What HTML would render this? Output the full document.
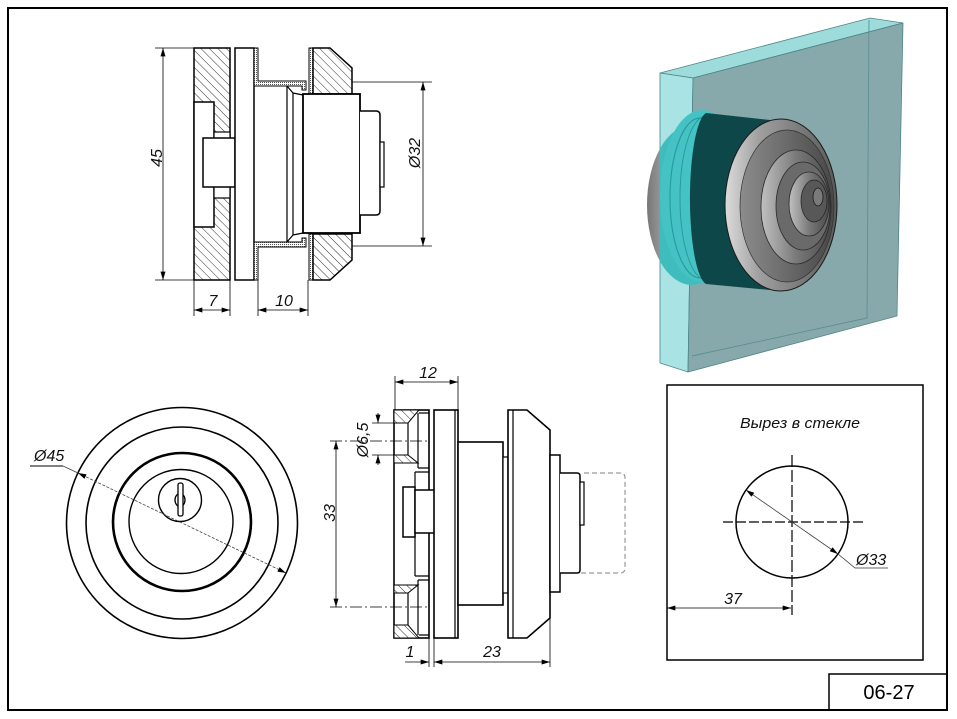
<!DOCTYPE html>
<html><head><meta charset="utf-8"><style>
html,body{margin:0;padding:0;background:#fff;}
svg{display:block;}
text{font-family:"Liberation Sans",Arial,sans-serif;}
.d{font-style:italic;font-size:16px;fill:#111;}
</style></head><body>
<svg width="957" height="719" viewBox="0 0 957 719" xmlns="http://www.w3.org/2000/svg">
<defs>
<marker id="a" viewBox="0 0 10 6" refX="10" refY="3" markerWidth="9" markerHeight="5" markerUnits="userSpaceOnUse" orient="auto-start-reverse"><path d="M0,0 L10,3 L0,6z" fill="#000"/></marker>
<pattern id="h" width="6" height="6" patternUnits="userSpaceOnUse" patternTransform="rotate(45)"><rect width="6" height="6" fill="#fff"/><line x1="0" y1="0" x2="6" y2="0" stroke="#333" stroke-width="1"/></pattern>
<pattern id="dt" width="2" height="2" patternUnits="userSpaceOnUse"><rect width="2" height="2" fill="#fff"/><rect width="1" height="1" fill="#555"/></pattern>
<linearGradient id="gd" x1="0" y1="0" x2="1" y2="0"><stop offset="0" stop-color="#dcdcdc"/><stop offset="0.3" stop-color="#a0a0a0"/><stop offset="1" stop-color="#5a5a5a"/></linearGradient>
<linearGradient id="gd2" x1="0" y1="0" x2="1" y2="0"><stop offset="0" stop-color="#8c8c8c"/><stop offset="1" stop-color="#484848"/></linearGradient>
<linearGradient id="gd3" x1="0" y1="0" x2="1" y2="0"><stop offset="0" stop-color="#c0c0c0"/><stop offset="0.5" stop-color="#7a7a7a"/><stop offset="1" stop-color="#4a4a4a"/></linearGradient>
<linearGradient id="gb" x1="0" y1="0" x2="1" y2="0"><stop offset="0" stop-color="#777"/><stop offset="0.4" stop-color="#c8c8c8"/><stop offset="1" stop-color="#888"/></linearGradient>
<clipPath id="inglass"><rect x="660" y="0" width="300" height="400"/></clipPath>
</defs>

<!-- outer frame -->
<rect x="8" y="8" width="939" height="702" fill="none" stroke="#000" stroke-width="2"/>
<!-- title block -->
<polyline points="829,710 829,674 947,674" fill="none" stroke="#000" stroke-width="1.5"/>
<text x="889" y="699" font-size="20" text-anchor="middle" fill="#000">06-27</text>

<!-- ============ TOP-LEFT SECTION ============ -->
<g stroke="#000" stroke-linejoin="miter">
<!-- dim 45 -->
<line x1="155" y1="48" x2="194" y2="48" stroke-width="0.8"/>
<line x1="155" y1="280" x2="194" y2="280" stroke-width="0.8"/>
<line x1="163" y1="48" x2="163" y2="280" stroke-width="0.8" marker-start="url(#a)" marker-end="url(#a)"/>
<!-- left hatched piece -->
<rect x="194" y="48" width="36" height="232" fill="url(#h)" stroke-width="1.5"/>
<rect x="194" y="102" width="20" height="125" fill="#fff" stroke-width="1.5"/>
<rect x="214" y="132" width="16" height="66" fill="#fff" stroke-width="1.2"/>
<rect x="203" y="138" width="32" height="49" fill="#fff" stroke-width="1.5"/>
<!-- plate -->
<rect x="235" y="48" width="19" height="232" fill="#fff" stroke-width="1.5"/>
<!-- gasket -->
<polygon points="254,48 258,48 258,81 306,81 306,90 302,90 302,86 254,86" fill="url(#dt)" stroke-width="1"/>
<polygon points="254,280 258,280 258,247 306,247 306,238 302,238 302,242 254,242" fill="url(#dt)" stroke-width="1"/>
<!-- chamfer ring -->
<path d="M287,86 V242 M293,93 V235 M287,86 L293,93 M287,242 L293,235 M293,93 L303,95 M293,235 L303,233" fill="none" stroke-width="1.2"/>
<!-- nut gasket -->
<rect x="309" y="48" width="4" height="46" fill="url(#dt)" stroke-width="1"/>
<rect x="309" y="234" width="4" height="46" fill="url(#dt)" stroke-width="1"/>
<!-- nut -->
<polygon points="313,48 330,48 352,68 352,94 313,94" fill="url(#h)" stroke-width="1.5"/>
<polygon points="313,234 352,234 352,260 330,280 313,280" fill="url(#h)" stroke-width="1.5"/>
<!-- cylinder -->
<rect x="303" y="94" width="57" height="139" fill="#fff" stroke-width="1.8"/>
<!-- key -->
<path d="M360,111 H376 Q380,111 380,115 V211 Q380,215 376,215 H360" fill="#fff" stroke-width="1.5"/>
<rect x="380" y="142" width="4" height="45" fill="#fff" stroke-width="1.2"/>
<!-- dim 32 -->
<line x1="352" y1="82" x2="432" y2="82" stroke-width="0.8"/>
<line x1="352" y1="246" x2="432" y2="246" stroke-width="0.8"/>
<line x1="423" y1="82" x2="423" y2="246" stroke-width="0.8" marker-start="url(#a)" marker-end="url(#a)"/>
<!-- dims 7, 10 -->
<line x1="194" y1="280" x2="194" y2="316" stroke-width="0.8"/>
<line x1="230" y1="280" x2="230" y2="316" stroke-width="0.8"/>
<line x1="194" y1="310" x2="230" y2="310" stroke-width="0.8" marker-start="url(#a)" marker-end="url(#a)"/>
<line x1="258" y1="280" x2="258" y2="316" stroke-width="0.8"/>
<line x1="308" y1="280" x2="308" y2="316" stroke-width="0.8"/>
<line x1="258" y1="310" x2="308" y2="310" stroke-width="0.8" marker-start="url(#a)" marker-end="url(#a)"/>
</g>
<text class="d" transform="translate(162,158) rotate(-90)" text-anchor="middle">45</text>
<text class="d" transform="translate(420,153) rotate(-90)" text-anchor="middle">Ø32</text>
<text class="d" x="213" y="306" text-anchor="middle">7</text>
<text class="d" x="284" y="306" text-anchor="middle">10</text>

<!-- ============ BOTTOM-LEFT FRONT VIEW ============ -->
<g fill="none" stroke="#000">
<circle cx="182" cy="523" r="115.5" stroke-width="1.6"/>
<circle cx="182" cy="523" r="96" stroke-width="1.6"/>
<circle cx="182" cy="522" r="69" stroke-width="2.6"/>
<circle cx="181" cy="521.5" r="52" stroke-width="1.4"/>
<circle cx="180" cy="500" r="21.5" stroke-width="1.4"/>
<ellipse cx="180" cy="500" rx="5" ry="6.5" stroke-width="1.3"/>
<rect x="178" y="483" width="5" height="33" rx="2" fill="#fff" stroke-width="1.3"/>
<line x1="30" y1="466" x2="63" y2="466" stroke-width="0.9"/>
<line x1="63" y1="466" x2="78" y2="473" stroke-width="0.8" stroke="#444"/>
<line x1="78" y1="473" x2="286" y2="573" stroke-width="0.8" stroke="#444" stroke-dasharray="3,1.5" marker-start="url(#a)" marker-end="url(#a)"/>
</g>
<text class="d" x="34" y="461" font-size="15">Ø45</text>

<!-- ============ BOTTOM-MIDDLE SIDE VIEW ============ -->
<g stroke="#000">
<!-- dim 12 -->
<line x1="395" y1="376" x2="395" y2="410" stroke-width="0.8"/>
<line x1="458" y1="376" x2="458" y2="410" stroke-width="0.8"/>
<line x1="395" y1="382" x2="458" y2="382" stroke-width="0.8" marker-start="url(#a)" marker-end="url(#a)"/>
<!-- flange -->
<rect x="394" y="410" width="35" height="228" fill="#fff" stroke-width="1.6"/>
<polygon points="394,410 419,410 408,423 394,423" fill="url(#h)" stroke-width="1"/>
<polygon points="394,455 408,455 418,463 394,463" fill="url(#h)" stroke-width="1"/>
<polygon points="394,593 408,593 418,585 394,585" fill="url(#h)" stroke-width="1"/>
<polygon points="394,638 419,638 408,625 394,625" fill="url(#h)" stroke-width="1"/>
<path d="M408,423 V455 M408,593 V625 M418,413 V468 M418,580 V635 M419,413 H429 M419,635 H429 M418,468 H429 M415,472 H429 M415,472 V576 M418,580 H429 M415,576 H429" fill="none" stroke-width="1.2"/>
<rect x="403" y="487" width="12" height="50" fill="#fff" stroke-width="1.5"/>
<rect x="415" y="490" width="20" height="43" fill="#fff" stroke-width="1.5"/>
<!-- plate -->
<rect x="434" y="410" width="24" height="228" fill="#fff" stroke-width="1.6"/>
<line x1="455" y1="410" x2="455" y2="638" stroke-width="1.2"/>
<!-- body -->
<rect x="458" y="442" width="45" height="163" fill="#fff" stroke-width="1.6"/>
<rect x="503" y="457" width="5" height="136" fill="#fff" stroke-width="1.2"/>
<!-- knob flange -->
<polygon points="508,410 527,410 550,430 550,618 527,638 508,638" fill="#fff" stroke-width="1.6"/>
<line x1="513" y1="410" x2="513" y2="638" stroke-width="1.2"/>
<!-- knob -->
<rect x="550" y="455" width="10" height="137" fill="#fff" stroke-width="1.5"/>
<path d="M560,473 H577 Q580,473 580,476 V570 Q580,573 577,573 H560" fill="#fff" stroke-width="1.5"/>
<rect x="580" y="482" width="4" height="43" fill="#fff" stroke-width="1.2"/>
<path d="M584,473 H620 Q625,473 625,478 V568 Q625,573 620,573 H580" fill="none" stroke="#999" stroke-width="1.2" stroke-dasharray="5,3"/>
<!-- dim 33 -->
<line x1="330" y1="441" x2="428" y2="441" stroke-width="0.8" stroke-dasharray="12,3,2,3"/>
<line x1="330" y1="607" x2="428" y2="607" stroke-width="0.8" stroke-dasharray="12,3,2,3"/>
<line x1="336" y1="441" x2="336" y2="607" stroke-width="0.8" marker-start="url(#a)" marker-end="url(#a)"/>
<!-- dim 6.5 -->
<line x1="372" y1="423" x2="394" y2="423" stroke-width="0.8"/>
<line x1="372" y1="455" x2="394" y2="455" stroke-width="0.8"/>
<line x1="378" y1="413" x2="378" y2="423" stroke-width="0.8" marker-end="url(#a)"/>
<line x1="378" y1="465" x2="378" y2="455" stroke-width="0.8" marker-end="url(#a)"/>
<!-- dims 1, 23 -->
<line x1="429" y1="638" x2="429" y2="667" stroke-width="0.8"/>
<line x1="434" y1="638" x2="434" y2="667" stroke-width="0.8"/>
<line x1="550" y1="618" x2="550" y2="667" stroke-width="0.8"/>
<line x1="405" y1="662" x2="429" y2="662" stroke-width="0.8" marker-end="url(#a)"/>
<line x1="434" y1="662" x2="550" y2="662" stroke-width="0.8" marker-start="url(#a)" marker-end="url(#a)"/>
</g>
<text class="d" x="428" y="378" text-anchor="middle">12</text>
<text class="d" transform="translate(335,513) rotate(-90)" text-anchor="middle">33</text>
<text class="d" transform="translate(368,440) rotate(-90)" text-anchor="middle" font-size="15">Ø6,5</text>
<text class="d" x="410" y="657" text-anchor="middle">1</text>
<text class="d" x="492" y="657" text-anchor="middle">23</text>

<!-- ============ CUTOUT BOX ============ -->
<g stroke="#000" fill="none">
<rect x="667" y="385" width="256" height="275" stroke-width="1.5"/>
<circle cx="792" cy="522" r="56" stroke-width="1.5"/>
<line x1="792" y1="455" x2="792" y2="615" stroke-width="1.2" stroke-dasharray="12,3"/>
<line x1="723" y1="522" x2="863" y2="522" stroke-width="1.2" stroke-dasharray="10,3"/>
<line x1="667" y1="608" x2="791" y2="608" stroke-width="0.8" marker-start="url(#a)" marker-end="url(#a)"/>
<line x1="746" y1="490" x2="838" y2="554" stroke-width="0.8" stroke="#444" marker-start="url(#a)" marker-end="url(#a)"/>
<polyline points="838,554 855,568 888,568" stroke-width="0.8" stroke="#333"/>
</g>
<text x="800" y="428" font-size="15" font-style="italic" text-anchor="middle" textLength="120" lengthAdjust="spacingAndGlyphs" fill="#111" style="font-family:'Liberation Sans','Noto Sans CJK SC',sans-serif">Вырез в стекле</text>
<text class="d" x="733" y="604" text-anchor="middle">37</text>
<text class="d" x="856" y="565" font-size="15">Ø33</text>

<!-- ============ 3D RENDER ============ -->
<g>
<polygon points="660,73 870,18 903,23 693,78" fill="#9edcdc" stroke="#4d8587" stroke-width="0.8"/>
<polygon points="660,73 693,78 688,372 660,363" fill="#a9e3e3" stroke="#4d8587" stroke-width="0.8"/>
<polygon points="693,78 903,23 897,316 688,372" fill="#87a9ab" stroke="#4d8587" stroke-width="0.8"/>
<polyline points="869,20 867,318 692,356" fill="none" stroke="#5e8f91" stroke-width="0.9"/>
<!-- back of knob -->
<ellipse cx="692" cy="205" rx="45" ry="80" fill="url(#gb)"/>
<g clip-path="url(#inglass)">
<ellipse cx="692" cy="205" rx="45" ry="80" fill="#3fbcbd"/>
<ellipse cx="702" cy="196" rx="42" ry="86" fill="#45c3c4"/>
<ellipse cx="700" cy="198" rx="30" ry="80" fill="none" stroke="#2a9a9c" stroke-width="1.2"/>
<ellipse cx="706" cy="198" rx="26" ry="82" fill="none" stroke="#2a9a9c" stroke-width="1"/>
</g>
<!-- dark teal cylinder -->
<path d="M706,113 L770,120 L770,290 L706,284 A18,86 0 0 1 706,113 Z" fill="#0e4749"/>
<!-- front disk -->
<ellipse cx="781" cy="205" rx="56" ry="86" fill="url(#gd)" stroke="#1a1a1a" stroke-width="1"/>
<ellipse cx="787" cy="206" rx="47" ry="76" fill="url(#gd2)" stroke="#333" stroke-width="0.7"/>
<ellipse cx="796" cy="207" rx="35" ry="57" fill="url(#gd3)" stroke="#2a2a2a" stroke-width="0.8"/>
<ellipse cx="803" cy="206" rx="27" ry="44" fill="#6a6a6a" stroke="#2a2a2a" stroke-width="0.8"/>
<ellipse cx="809" cy="204" rx="20" ry="32" fill="url(#gd3)" stroke="#2a2a2a" stroke-width="0.8"/>
<ellipse cx="814" cy="201" rx="13" ry="21" fill="#585858" stroke="#222" stroke-width="0.7"/>
<ellipse cx="818" cy="197" rx="5" ry="9" fill="#7a7a7a" stroke="#1a1a1a" stroke-width="0.8"/>
</g>
</svg>
</body></html>
